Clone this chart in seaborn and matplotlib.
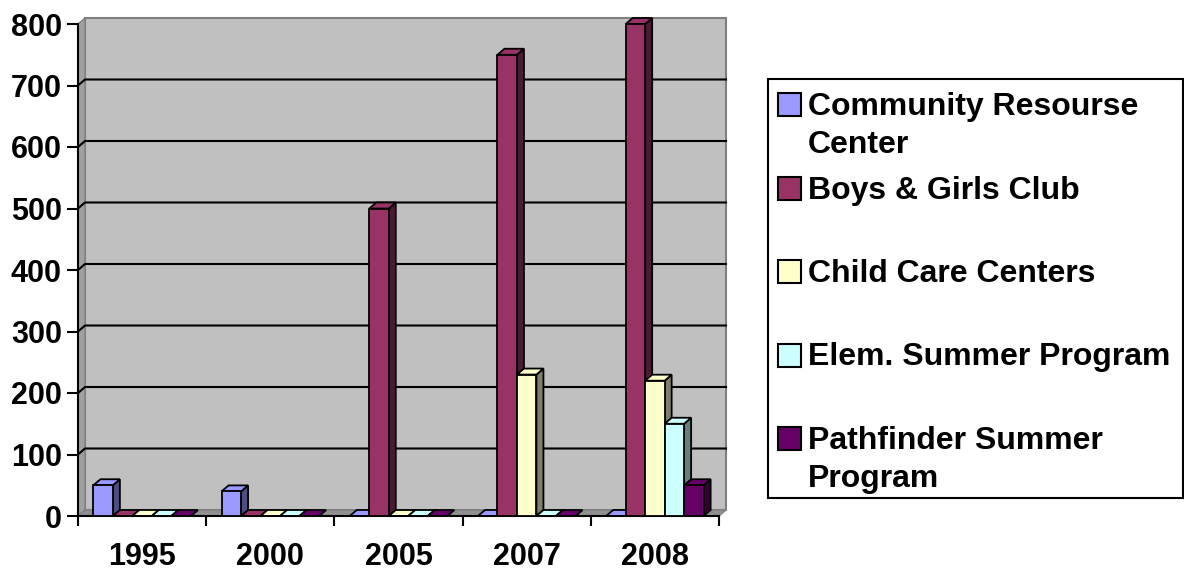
import pandas as pd
import seaborn as sns
import matplotlib.pyplot as plt
from matplotlib.patches import Polygon, Rectangle
from matplotlib.colors import to_rgb

# Chart data
years = ['1995', '2000', '2005', '2007', '2008']
programs = ['Community Resourse Center', 'Boys & Girls Club', 'Child Care Centers',
            'Elem. Summer Program', 'Pathfinder Summer Program']
legend_labels = ['Community Resourse\nCenter', 'Boys & Girls Club', 'Child Care Centers',
                 'Elem. Summer Program', 'Pathfinder Summer\nProgram']
community_resourse = [50, 40, 0, 0, 0]
boys_girls_club = [0, 0, 500, 750, 800]
child_care = [0, 0, 0, 230, 220]
elem_summer = [0, 0, 0, 0, 150]
pathfinder_summer = [0, 0, 0, 0, 50]
colors = ['#9999FF', '#993366', '#FFFFCC', '#CCFFFF', '#660066']
y_ticks = [0, 100, 200, 300, 400, 500, 600, 700, 800]

plt.rcParams['font.family'] = ['Liberation Sans', 'DejaVu Sans']
plt.rcParams['font.weight'] = 'bold'

all_values = [community_resourse, boys_girls_club, child_care, elem_summer, pathfinder_summer]
rows = []
for prog, vals in zip(programs, all_values):
    for yr, v in zip(years, vals):
        rows.append({'year': yr, 'program': prog, 'value': v})
df = pd.DataFrame(rows)

W, H = 1184, 573
fig = plt.figure(figsize=(W / 100, H / 100), dpi=100)
ax = fig.add_axes([78 / W, 57 / H, 641 / W, 492 / H])

sns.barplot(data=df, x='year', y='value', hue='program', hue_order=programs,
            order=years, palette=colors, saturation=1, width=0.76,
            edgecolor='black', linewidth=1.3, legend=False, ax=ax)
bars = sorted(ax.patches, key=lambda p: p.get_x())

ax.set_xlim(-0.5, 4.5)
ax.set_ylim(0, 800)
ax.patch.set_visible(False)

# 3D depth in data units
ddx = 7 / 641 * 5
ddy = 6 / 492 * 800

# walls and floor
ax.add_patch(Rectangle((-0.5 + ddx, ddy), 5, 800, facecolor='#C0C0C0',
                       edgecolor='#808080', lw=1.5, zorder=0, clip_on=False))
ax.add_patch(Polygon([(-0.5, 0), (-0.5, 800), (-0.5 + ddx, 800 + ddy), (-0.5 + ddx, ddy)],
                     facecolor='#A0A0A0', edgecolor='#808080', lw=1, zorder=0.5, clip_on=False))
ax.add_patch(Polygon([(-0.5, 0), (4.5, 0), (4.5 + ddx, ddy), (-0.5 + ddx, ddy)],
                     facecolor='#909090', edgecolor='#808080', lw=1, zorder=0.5, clip_on=False))
for v in y_ticks[1:-1]:
    ax.plot([-0.5, -0.5 + ddx, 4.5 + ddx], [v, v + ddy, v + ddy], color='black',
            lw=1.5, zorder=1, clip_on=False)

# bar sides and tops
for i, p in enumerate(bars):
    x, w, h = p.get_x(), p.get_width(), p.get_height()
    base = to_rgb(p.get_facecolor()[:3])
    dark = tuple(c * 0.5 for c in base)
    z = 3 + i * 0.1
    ax.add_patch(Polygon([(x + w, 0), (x + w, h), (x + w + ddx, h + ddy), (x + w + ddx, ddy)],
                         facecolor=dark, edgecolor='black', lw=1.3, zorder=z, clip_on=False))
    ax.add_patch(Polygon([(x, h), (x + w, h), (x + w + ddx, h + ddy), (x + ddx, h + ddy)],
                         facecolor=base, edgecolor='black', lw=1.3, zorder=z, clip_on=False))
    p.set_zorder(z + 0.05)
    p.set_clip_on(False)

# axes styling
for s in ['top', 'right']:
    ax.spines[s].set_visible(False)
for s in ['left', 'bottom']:
    ax.spines[s].set_linewidth(1.5)
    ax.spines[s].set_zorder(2)
ax.set_yticks(y_ticks)
ax.set_xticks(range(len(years)))
ax.set_xticklabels(years)
ax.set_xticks([i - 0.5 for i in range(len(years) + 1)], minor=True)
ax.tick_params(axis='y', direction='out', length=8, width=1.5, pad=3.6, labelsize=22)
ax.tick_params(axis='x', which='major', length=0, pad=18.5, labelsize=22)
ax.tick_params(axis='x', which='minor', direction='out', length=7.5, width=1.5)
ax.set_xlabel('')
ax.set_ylabel('')

# legend box
fig.add_artist(Rectangle((768 / W, 1 - 498 / H), (1183 - 768) / W, (498 - 79) / H,
                         transform=fig.transFigure, fill=False, edgecolor='black', lw=1.5))
for i, (lab, col) in enumerate(zip(legend_labels, colors)):
    yb = 115 + i * 83.5
    fig.add_artist(Rectangle((778 / W, 1 - (yb + 1) / H), 23 / W, 23 / H,
                             transform=fig.transFigure, facecolor=col,
                             edgecolor='black', lw=1.5))
    extra = lab.count('\n') * 38
    fig.text(808 / W, 1 - (yb + extra) / H, lab, fontsize=23, fontweight='bold',
             va='baseline', ha='left', linespacing=1.35)

plt.savefig('out.png', dpi=100)
plt.close()
